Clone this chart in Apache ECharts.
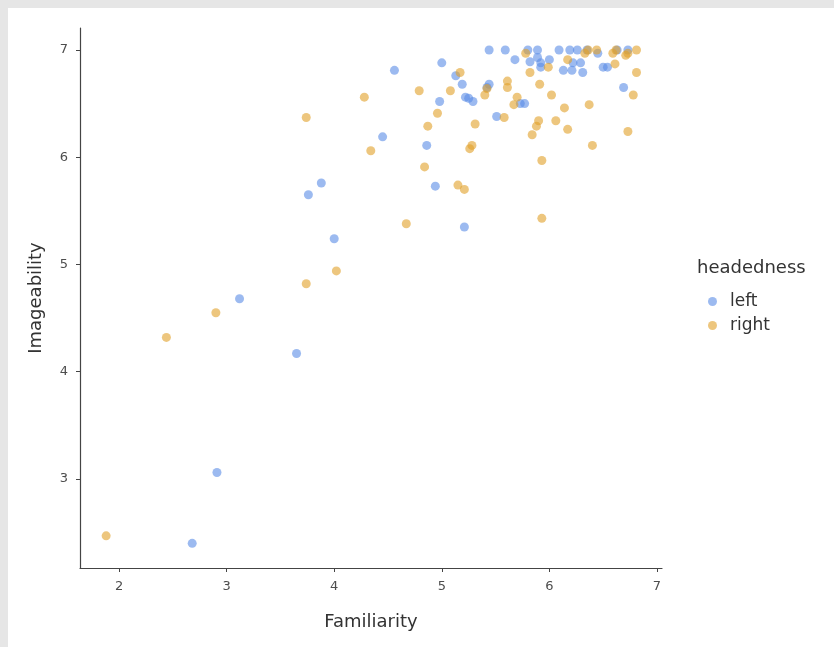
<!DOCTYPE html>
<html>
<head>
<meta charset="utf-8">
<script src="https://cdn.jsdelivr.net/npm/echarts@6/dist/echarts.min.js"></script>
<style>
  html, body { margin: 0; padding: 0; background: #e6e6e6; }
  #chart { position: absolute; left: 8px; top: 8px; width: 826px; height: 639px; background: #ffffff; }
</style>
</head>
<body>
<div id="chart"></div>
<script>
// ---- data ----
const xTicks = [2, 3, 4, 5, 6, 7];
const yTicks = [3, 4, 5, 6, 7];
const seriesNames = ['left', 'right'];

const leftFam = [2.68, 2.91, 3.12, 3.65, 3.76, 3.88, 4.00, 4.45, 4.56, 4.86, 4.94, 4.98, 5.00, 5.13, 5.19, 5.21, 5.22, 5.25, 5.29, 5.44, 5.42, 5.44, 5.51, 5.59, 5.68, 5.73, 5.77, 5.80, 5.89, 5.89, 5.92, 5.92, 5.82, 6.00, 6.09, 6.19, 6.26, 6.22, 6.29, 6.31, 6.13, 6.21, 6.35, 6.45, 6.50, 6.54, 6.63, 6.73, 6.69];
const leftImg = [2.40, 3.06, 4.68, 4.17, 5.65, 5.76, 5.24, 6.19, 6.81, 6.11, 5.73, 6.52, 6.88, 6.76, 6.68, 5.35, 6.56, 6.55, 6.52, 7.00, 6.65, 6.68, 6.38, 7.00, 6.91, 6.50, 6.50, 7.00, 7.00, 6.93, 6.88, 6.84, 6.89, 6.91, 7.00, 7.00, 7.00, 6.88, 6.88, 6.79, 6.81, 6.81, 7.00, 6.97, 6.84, 6.84, 7.00, 7.00, 6.65];

const rightFam = [1.88, 2.44, 2.90, 3.74, 4.02, 3.74, 4.67, 4.28, 4.34, 4.79, 4.84, 4.87, 4.96, 5.08, 5.15, 5.17, 5.21, 5.26, 5.28, 5.31, 5.40, 5.42, 5.58, 5.61, 5.61, 5.70, 5.67, 5.78, 5.82, 5.84, 5.88, 5.90, 5.91, 5.93, 5.93, 5.99, 6.02, 6.06, 6.14, 6.17, 6.17, 6.33, 6.36, 6.37, 6.40, 6.44, 6.59, 6.62, 6.61, 6.71, 6.73, 6.73, 6.78, 6.81, 6.81];
const rightImg = [2.47, 4.32, 4.55, 4.82, 4.94, 6.37, 5.38, 6.56, 6.06, 6.62, 5.91, 6.29, 6.41, 6.62, 5.74, 6.79, 5.70, 6.08, 6.11, 6.31, 6.58, 6.64, 6.37, 6.71, 6.65, 6.56, 6.49, 6.97, 6.79, 6.21, 6.29, 6.34, 6.68, 5.97, 5.43, 6.84, 6.58, 6.34, 6.46, 6.26, 6.91, 6.97, 7.00, 6.49, 6.11, 7.00, 6.97, 7.00, 6.87, 6.95, 6.97, 6.24, 6.58, 7.00, 6.79];

// ---- chart ----
const FONT = 'DejaVu Sans';
const zip = (a, b) => a.map((v, i) => [v, b[i]]);
const axisColor = '#444444';
const labelColor = '#4d4d4d';

const chart = echarts.init(document.getElementById('chart'), null, { renderer: 'canvas' });
chart.setOption({
  animation: false,
  backgroundColor: '#ffffff',
  grid: { left: 72, top: 20, right: 172, bottom: 79, containLabel: false },
  xAxis: {
    type: 'value', min: 1.637, max: 7.047,
    name: 'Familiarity', nameLocation: 'middle', nameGap: 45,
    nameTextStyle: { fontFamily: FONT, fontSize: 18, color: '#333333' },
    splitLine: { show: false },
    axisLine: { show: true, lineStyle: { color: axisColor, width: 1.2 } },
    axisTick: { show: true, length: 4, lineStyle: { color: axisColor }, customValues: xTicks },
    axisLabel: { fontFamily: FONT, fontSize: 13, color: labelColor, margin: 12, customValues: xTicks, formatter: v => String(v) }
  },
  yAxis: {
    type: 'value', min: 2.17, max: 7.205,
    name: 'Imageability', nameLocation: 'middle', nameGap: 35,
    nameTextStyle: { fontFamily: FONT, fontSize: 18, color: '#333333' },
    splitLine: { show: false },
    axisLine: { show: true, lineStyle: { color: axisColor, width: 1.2 } },
    axisTick: { show: true, length: 4, lineStyle: { color: axisColor }, customValues: yTicks },
    axisLabel: { fontFamily: FONT, fontSize: 13, color: labelColor, margin: 12, customValues: yTicks, formatter: v => String(v) }
  },
  legend: {
    orient: 'vertical', left: 695, top: 280,
    data: seriesNames,
    icon: 'circle', itemWidth: 9, itemHeight: 9, itemGap: 7,
    textStyle: { fontFamily: FONT, fontSize: 17, color: '#333333', padding: [0, 0, 0, 8] }
  },
  graphic: [{
    type: 'text', left: 689, top: 251,
    style: { text: 'headedness', font: '18px "DejaVu Sans"', fill: '#333333' }
  }],
  series: [
    {
      name: seriesNames[0], type: 'scatter', symbolSize: 9,
      itemStyle: { color: 'rgba(90,140,230,0.75)' },
      data: zip(leftFam, leftImg)
    },
    {
      name: seriesNames[1], type: 'scatter', symbolSize: 9,
      itemStyle: { color: 'rgba(225,160,40,0.75)' },
      data: zip(rightFam, rightImg)
    }
  ]
});
</script>
</body>
</html>
